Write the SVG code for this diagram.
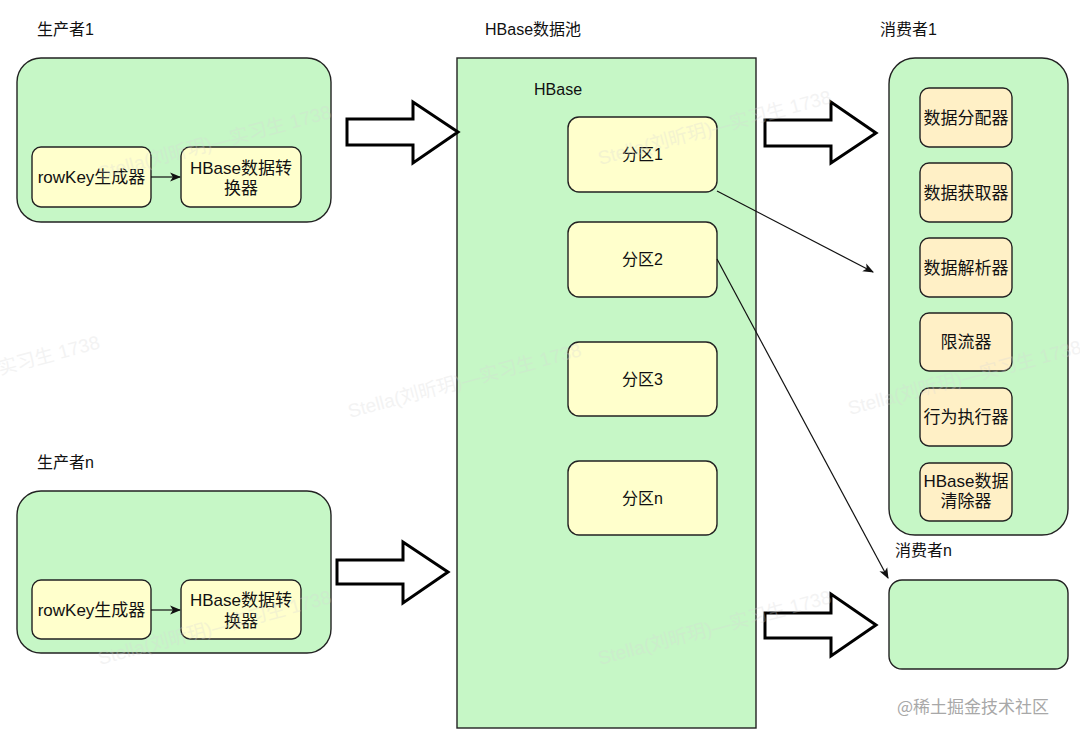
<svg xmlns="http://www.w3.org/2000/svg" width="1080" height="738" viewBox="0 0 1080 738">
  <defs>
    <style>
      .t { font-family: "Liberation Sans", "Noto Sans CJK SC", sans-serif; font-size: 16px; fill: #111; }
      .c { text-anchor: middle; }
      .big { font-size: 17px; }
      .green { fill: #c6f7c6; stroke: #222; stroke-width: 1.4; }
      .yellow { fill: #ffffcc; stroke: #222; stroke-width: 1.4; }
      .orange { fill: #fff0c6; stroke: #222; stroke-width: 1.4; }
      .block { fill: #fff; stroke: #000; stroke-width: 3; stroke-linejoin: miter; }
      .line { fill: none; stroke: #111; stroke-width: 1.2; }
      .wm { font-family: "Liberation Sans", "Noto Sans CJK SC", sans-serif; font-size: 19px; fill: #d8d8d8; opacity: 0.3; }
    </style>
    <marker id="ah" viewBox="0 0 10 10" refX="9" refY="5" markerWidth="11" markerHeight="11" markerUnits="userSpaceOnUse" orient="auto">
      <path d="M0,1 L10,5 L0,9 L2.5,5 Z" fill="#111"/>
    </marker>
  </defs>
  <rect width="1080" height="738" fill="#fff"/>

  <!-- titles -->
  <text class="t" x="37" y="35">生产者1</text>
  <text class="t" x="37" y="468">生产者n</text>
  <text class="t" x="485" y="35">HBase数据池</text>
  <text class="t" x="880" y="35">消费者1</text>
  <text class="t" x="895" y="556">消费者n</text>

  <!-- Producer 1 -->
  <g id="producer1">
    <rect class="green" x="17" y="58" width="314" height="164" rx="24"/>
    <g id="p1-rowkey">
      <rect class="yellow" x="32" y="147" width="119" height="60" rx="9"/>
      <text class="t big c" x="91.5" y="183">rowKey生成器</text>
    </g>
    <g id="p1-converter">
      <rect class="yellow" x="181" y="147" width="120" height="60" rx="9"/>
      <text class="t big c" x="241" y="174">HBase数据转</text>
      <text class="t big c" x="241" y="194">换器</text>
    </g>
  </g>

  <!-- Producer n -->
  <g id="producerN">
    <rect class="green" x="17" y="491" width="314" height="162" rx="24"/>
    <g id="pn-rowkey">
      <rect class="yellow" x="32" y="580" width="119" height="59" rx="9"/>
      <text class="t big c" x="91.5" y="616">rowKey生成器</text>
    </g>
    <g id="pn-converter">
      <rect class="yellow" x="181" y="580" width="120" height="59" rx="9"/>
      <text class="t big c" x="241" y="606">HBase数据转</text>
      <text class="t big c" x="241" y="627">换器</text>
    </g>
  </g>

  <!-- HBase pool -->
  <g id="hbase">
    <rect class="green" x="457" y="58" width="299" height="670" rx="0"/>
    <text class="t" x="534" y="95">HBase</text>
    <g id="part1">
      <rect class="yellow" x="568" y="117" width="149" height="75" rx="11"/>
      <text class="t c" x="642.5" y="160">分区1</text>
    </g>
    <g id="part2">
      <rect class="yellow" x="568" y="222" width="149" height="75" rx="11"/>
      <text class="t c" x="642.5" y="265">分区2</text>
    </g>
    <g id="part3">
      <rect class="yellow" x="568" y="342" width="149" height="74" rx="11"/>
      <text class="t c" x="642.5" y="385">分区3</text>
    </g>
    <g id="partN">
      <rect class="yellow" x="568" y="461" width="149" height="74" rx="11"/>
      <text class="t c" x="642.5" y="504">分区n</text>
    </g>
  </g>

  <!-- Consumer 1 -->
  <g id="consumer1">
    <rect class="green" x="889" y="58" width="179" height="477" rx="26"/>
    <g id="c1-dist">
      <rect class="orange" x="920" y="88" width="92" height="59" rx="9"/>
      <text class="t big c" x="966" y="124">数据分配器</text>
    </g>
    <g id="c1-fetch">
      <rect class="orange" x="920" y="163" width="92" height="59" rx="9"/>
      <text class="t big c" x="966" y="199">数据获取器</text>
    </g>
    <g id="c1-parse">
      <rect class="orange" x="920" y="238" width="92" height="59" rx="9"/>
      <text class="t big c" x="966" y="274">数据解析器</text>
    </g>
    <g id="c1-limit">
      <rect class="orange" x="920" y="313" width="92" height="58" rx="9"/>
      <text class="t big c" x="966" y="348">限流器</text>
    </g>
    <g id="c1-exec">
      <rect class="orange" x="920" y="388" width="92" height="58" rx="9"/>
      <text class="t big c" x="966" y="423">行为执行器</text>
    </g>
    <g id="c1-clean">
      <rect class="orange" x="920" y="463" width="92" height="58" rx="9"/>
      <text class="t big c" x="966" y="487">HBase数据</text>
      <text class="t big c" x="966" y="507">清除器</text>
    </g>
  </g>

  <!-- Consumer n -->
  <g id="consumerN">
    <rect class="green" x="889" y="580" width="179" height="89" rx="13"/>
  </g>

  <!-- connectors -->
  <g id="connectors">
    <path class="block" d="M347,119 L413,119 L413,102 L458,132 L413,163 L413,145 L347,145 Z"/>
    <path class="block" d="M337,560 L403,560 L403,542 L448,572 L403,603 L403,584 L337,584 Z"/>
    <path class="block" d="M765,120 L831,120 L831,102 L876,133 L831,163 L831,146 L765,146 Z"/>
    <path class="block" d="M765,613 L831,613 L831,594 L876,625 L831,656 L831,638 L765,638 Z"/>
    <line class="line" x1="151" y1="177" x2="180" y2="177" marker-end="url(#ah)"/>
    <line class="line" x1="151" y1="610" x2="180" y2="610" marker-end="url(#ah)"/>
    <line class="line" x1="717" y1="191" x2="873" y2="272" marker-end="url(#ah)"/>
    <line class="line" x1="717" y1="259" x2="888" y2="578" marker-end="url(#ah)"/>
  </g>

  <!-- watermarks -->
  <g id="watermarks">
    <text class="wm" transform="translate(100,180) rotate(-15)">Stella(刘昕玥)—实习生 1738</text>
    <text class="wm" transform="translate(600,165) rotate(-15)">Stella(刘昕玥)—实习生 1738</text>
    <text class="wm" transform="translate(0,375) rotate(-15)">实习生 1738</text>
    <text class="wm" transform="translate(350,418) rotate(-15)">Stella(刘昕玥)—实习生 1738</text>
    <text class="wm" transform="translate(850,415) rotate(-15)">Stella(刘昕玥)—实习生 1738</text>
    <text class="wm" transform="translate(100,665) rotate(-15)">Stella(刘昕玥)—实习生 1738</text>
    <text class="wm" transform="translate(600,665) rotate(-15)">Stella(刘昕玥)—实习生 1738</text>
    <text x="897" y="713" style="font-family: 'Noto Sans CJK SC', sans-serif; font-size: 17px; fill: #a8a8a8;">@稀土掘金技术社区</text>
  </g>
</svg>
